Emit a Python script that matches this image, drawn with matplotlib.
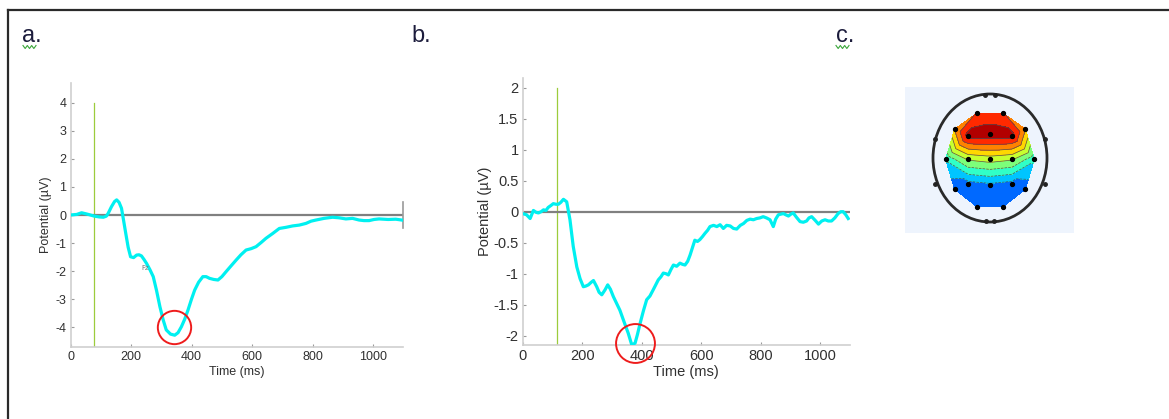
import numpy as np
import matplotlib
matplotlib.use("Agg")
import matplotlib.pyplot as plt
import matplotlib.tri as mtri
from matplotlib.patches import Ellipse
from matplotlib.lines import Line2D

plt.rcParams["axes.unicode_minus"] = False

# ---------------- data ----------------
# panel a: Fz grand average ERP
a_time = [0, 20, 36, 55, 78, 95, 108, 118, 124, 135, 145, 152, 160, 168, 175, 182, 190, 198,
          208, 218, 226, 234, 242, 251, 262, 273, 284, 295, 306, 316, 330, 344, 355, 366, 377,
          388, 399, 410, 423, 437, 448, 459, 473, 487, 500, 514, 530, 547, 563, 580, 597, 613,
          630, 646, 668, 690, 712, 734, 756, 778, 795, 811, 838, 866, 888, 910, 932, 954,
          970, 987, 1003, 1020, 1050, 1075, 1095]
a_vals = [0.0, 0.02, 0.08, 0.03, -0.04, -0.07, -0.08, -0.04, 0.06, 0.3, 0.48, 0.54, 0.45, 0.24,
          -0.2, -0.65, -1.15, -1.49, -1.52, -1.43, -1.42, -1.46, -1.58, -1.73, -1.95, -2.2, -2.7,
          -3.27, -3.75, -4.1, -4.25, -4.29, -4.2, -3.99, -3.72, -3.39, -3.02, -2.68, -2.4, -2.2,
          -2.2, -2.26, -2.3, -2.32, -2.2, -2.02, -1.82, -1.61, -1.42, -1.25, -1.2, -1.13, -0.98,
          -0.83, -0.66, -0.48, -0.44, -0.39, -0.36, -0.3, -0.22, -0.18, -0.12, -0.08, -0.1,
          -0.14, -0.12, -0.18, -0.2, -0.2, -0.16, -0.14, -0.16, -0.15, -0.18]

# panel b: grand average ERP (noisier)
b_time = [0, 13, 25, 36, 45, 53, 62, 70, 78, 86, 95, 103, 112, 120, 128, 137, 148, 159, 170,
          182, 193, 204, 212, 221, 230, 238, 249, 257, 266, 277, 286, 295, 305, 316, 327, 339,
          355, 367, 378, 386, 395, 406, 417, 428, 439, 456, 465, 473, 482, 490, 499, 507, 518,
          529, 538, 546, 555, 563, 571, 579, 588, 596, 605, 613, 622, 630, 642, 653, 664, 675,
          686, 698, 709, 720, 732, 743, 754, 765, 776, 787, 798, 809, 820, 832, 843, 851, 860,
          868, 877, 885, 894, 902, 910, 921, 933, 944, 955, 963, 972, 984, 995, 1006, 1017,
          1028, 1039, 1050, 1061, 1070, 1078, 1087, 1095]
b_vals = [-0.03, -0.05, -0.11, 0.02, -0.01, -0.02, 0.0, 0.03, 0.02, 0.07, 0.1, 0.13, 0.12,
          0.12, 0.15, 0.2, 0.16, -0.13, -0.56, -0.89, -1.08, -1.21, -1.2, -1.18, -1.14, -1.11,
          -1.21, -1.3, -1.34, -1.26, -1.18, -1.25, -1.37, -1.48, -1.59, -1.75, -1.96, -2.15,
          -2.12, -1.98, -1.8, -1.6, -1.42, -1.36, -1.26, -1.1, -1.05, -0.99, -1.0, -1.02, -0.93,
          -0.86, -0.88, -0.83, -0.85, -0.86, -0.8, -0.7, -0.58, -0.46, -0.48, -0.45, -0.4,
          -0.35, -0.3, -0.24, -0.22, -0.24, -0.21, -0.27, -0.22, -0.23, -0.27, -0.28, -0.22,
          -0.19, -0.14, -0.12, -0.13, -0.11, -0.1, -0.08, -0.1, -0.13, -0.24, -0.12, -0.05,
          -0.04, -0.03, -0.05, -0.07, -0.04, -0.02, -0.09, -0.16, -0.17, -0.15, -0.1, -0.08,
          -0.14, -0.2, -0.15, -0.13, -0.15, -0.15, -0.1, -0.03, 0.0, 0.0, -0.05, -0.11]

a_peak = (342, -4.0)
b_peak = (378, -2.12)
a_stim = 78
b_stim = 114
a_xticks = [0, 200, 400, 600, 800, 1000]
a_yticks = [-4, -3, -2, -1, 0, 1, 2, 3, 4]
b_xticks = [0, 200, 400, 600, 800, 1000]
b_yticks = [-2, -1.5, -1, -0.5, 0, 0.5, 1, 1.5, 2]
b_yticklabels = ["-2", "-1.5", "-1", "-0.5", "0", "0.5", "1", "1.5", "2"]

# panel c: topographic map (normalised head coordinates, values in a.u.)
elec_x = [-0.23, 0.23, -0.62, -0.38, 0.0, 0.38, 0.62, -0.78, -0.39, 0.0, 0.39, 0.78,
          -0.62, -0.38, 0.0, 0.38, 0.62, -0.23, 0.23]
elec_y = [0.70, 0.70, 0.45, 0.35, 0.37, 0.35, 0.45, -0.02, -0.02, -0.02, -0.02, -0.02,
          -0.49, -0.40, -0.42, -0.40, -0.49, -0.76, -0.76]
elec_v = [0.7, 0.7, 0.5, 0.95, 1.0, 0.95, 0.5, -0.22, 0.14, 0.2, 0.14, -0.2,
          -0.56, -0.5, -0.48, -0.5, -0.56, -0.5, -0.5]
ring_x = [-0.08, 0.08, -0.96, -0.96, 0.96, 0.96, -0.07, 0.07]
ring_y = [0.98, 0.98, 0.3, -0.4, 0.3, -0.4, -0.99, -0.99]

# ---------------- figure ----------------
W, H = 1169, 419
fig = plt.figure(figsize=(W / 100, H / 100), dpi=100)
fig.patch.set_facecolor("white")

def fx(px):
    return px / W

def fy(py):
    return 1 - py / H

# frame lines
fig.add_artist(Line2D([fx(7.5), fx(1169)], [fy(10), fy(10)], color="#2a2a2a", lw=1.6))
fig.add_artist(Line2D([fx(7.5), fx(7.5)], [fy(10), fy(419)], color="#2a2a2a", lw=1.6))

# panel letters
lab_kw = dict(fontsize=17, color="#1c1c3c", family="Liberation Sans", va="baseline")
fig.text(fx(22), fy(42), "a.", **lab_kw)
fig.text(fx(411), fy(42), "b.", **lab_kw)
fig.text(fx(836), fy(42), "c.", **lab_kw)
for x0 in (23, 836):
    xs = np.linspace(x0, x0 + 13, 7)
    ys = [47 + (1.5 if i % 2 else -1.5) for i in range(7)]
    fig.add_artist(Line2D([fx(v) for v in xs], [fy(v) for v in ys], color="#3aa63a", lw=0.8))


def style_axes(ax, fs):
    for s in ("top", "right"):
        ax.spines[s].set_visible(False)
    for s in ("left", "bottom"):
        ax.spines[s].set_color("#cfcfcf")
        ax.spines[s].set_linewidth(1.2)
    ax.tick_params(direction="in", length=2.5, width=0.8, color="#9a9a9a",
                   labelsize=fs, labelcolor="#303030", pad=3)
    for t in ax.get_xticklabels() + ax.get_yticklabels():
        t.set_family("Liberation Sans")


# panel a
axa = fig.add_axes([fx(70.7), fy(346.7), (403.3 - 70.7) / W, (346.7 - 83.3) / H])
axa.set_xlim(0, 1100)
axa.set_ylim(-4.7, 4.7)
axa.plot([0, 1100], [0, 0], color="#808080", lw=1.6, zorder=2)
axa.plot([1100, 1100], [-0.45, 0.45], color="#9a9a9a", lw=1.2, clip_on=False, zorder=2)
axa.plot([a_stim, a_stim], [-4.7, 4.0], color="#9ccc3c", lw=0.9, zorder=1)
axa.plot(a_time, a_vals, color="#00f0f0", lw=2.3, zorder=3, solid_joinstyle="round")
axa.plot([a_peak[0]], [a_peak[1]], marker="o", ms=24, mfc="none", mec="#ee1c1c",
         mew=1.4, zorder=4, clip_on=False)
axa.text(245, -1.9, "Fz", fontsize=5, color="#777777", ha="center", va="center")
axa.set_xticks(a_xticks)
axa.set_yticks(a_yticks)
style_axes(axa, 9)
axa.set_xlabel("Time (ms)", fontsize=9, color="#303030", family="Liberation Sans")
axa.set_ylabel("Potential (\u00b5V)", fontsize=9, color="#303030", family="Liberation Sans")
axa.xaxis.set_label_coords(0.5, -0.072)
axa.yaxis.set_label_coords(-0.056, 0.5)

# panel b
axb = fig.add_axes([fx(522.7), fy(345), (849.7 - 522.7) / W, (345 - 78.4) / H])
axb.set_xlim(0, 1100)
axb.set_ylim(-2.15, 2.15)
axb.plot([0, 1100], [0, 0], color="#808080", lw=1.6, zorder=2)
axb.plot([b_stim, b_stim], [-2.15, 2.0], color="#9ccc3c", lw=0.9, zorder=1)
axb.plot(b_time, b_vals, color="#00f0f0", lw=2.3, zorder=3, solid_joinstyle="round")
axb.plot([b_peak[0]], [b_peak[1]], marker="o", ms=28, mfc="none", mec="#ee1c1c",
         mew=1.4, zorder=4, clip_on=False)
axb.set_xticks(b_xticks)
axb.set_yticks(b_yticks)
axb.set_yticklabels(b_yticklabels)
style_axes(axb, 10.5)
axb.set_xlabel("Time (ms)", fontsize=10.5, color="#303030", family="Liberation Sans")
axb.set_ylabel("Potential (\u00b5V)", fontsize=10.5, color="#303030", family="Liberation Sans")
axb.xaxis.set_label_coords(0.5, -0.075)
axb.yaxis.set_label_coords(-0.095, 0.5)

# panel c: topomap
axc = fig.add_axes([fx(905), fy(233), 169 / W, 146 / H])
axc.set_xlim(0, 169)
axc.set_ylim(0, 146)
axc.set_facecolor("#eef4fd")
for s in axc.spines.values():
    s.set_visible(False)
axc.set_xticks([])
axc.set_yticks([])
cx, cy, rx, ry = 85, 75, 57, 64
ex = cx + rx * np.array(elec_x)
ey = cy + ry * np.array(elec_y)
tri = mtri.Triangulation(ex, ey)
levels = np.linspace(-1.0, 1.05, 12)
axc.tricontourf(tri, elec_v, levels=levels, cmap="jet", vmin=-1, vmax=1.05)
axc.tricontour(tri, elec_v, levels=levels[1:-1], colors="#505050", linewidths=0.5)
axc.plot(ex, ey, "o", color="black", ms=2.8)
axc.add_patch(Ellipse((cx, cy), 2 * rx, 2 * ry, fill=False, ec="#2a2a2a", lw=2.0))
axc.plot(cx + rx * np.array(ring_x), cy + ry * np.array(ring_y), "o", color="#222222", ms=2.5)

fig.savefig("out.png", dpi=100)
